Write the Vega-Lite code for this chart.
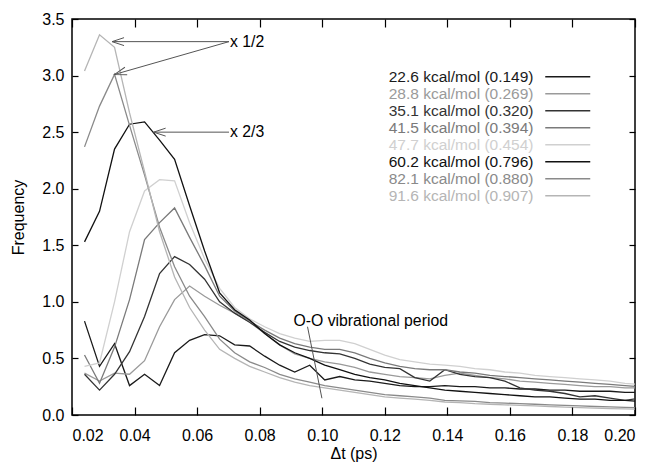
{
"$schema": "https://vega.github.io/schema/vega-lite/v6.json",
"width": 563, "height": 396,
"autosize": {"type": "none"},
"padding": {"left": 72, "top": 19, "right": 17, "bottom": 47},
"background": "white",
"config": {
 "font": "Liberation Sans",
 "view": {"stroke": "black", "strokeWidth": 1.5},
 "axis": {"domain": false, "grid": false, "tickColor": "black", "tickWidth": 1.2, "labelColor": "black", "labelFont": "Liberation Sans", "labelFontSize": 16, "titleFont": "Liberation Sans", "titleFontSize": 16, "titleFontWeight": "normal", "titleColor": "black"}
},
"datasets": {
"curves": [
{"s":"22.6 kcal/mol (0.149)","x":0.024,"y":0.83},{"s":"22.6 kcal/mol (0.149)","x":0.0288,"y":0.43},{"s":"22.6 kcal/mol (0.149)","x":0.0336,"y":0.63},{"s":"22.6 kcal/mol (0.149)","x":0.0384,"y":0.26},{"s":"22.6 kcal/mol (0.149)","x":0.0432,"y":0.36},{"s":"22.6 kcal/mol (0.149)","x":0.048,"y":0.26},{"s":"22.6 kcal/mol (0.149)","x":0.0528,"y":0.55},{"s":"22.6 kcal/mol (0.149)","x":0.0576,"y":0.66},{"s":"22.6 kcal/mol (0.149)","x":0.0624,"y":0.71},{"s":"22.6 kcal/mol (0.149)","x":0.0672,"y":0.70},{"s":"22.6 kcal/mol (0.149)","x":0.072,"y":0.62},{"s":"22.6 kcal/mol (0.149)","x":0.0768,"y":0.61},{"s":"22.6 kcal/mol (0.149)","x":0.0816,"y":0.52},{"s":"22.6 kcal/mol (0.149)","x":0.0864,"y":0.44},{"s":"22.6 kcal/mol (0.149)","x":0.0912,"y":0.38},{"s":"22.6 kcal/mol (0.149)","x":0.096,"y":0.44},{"s":"22.6 kcal/mol (0.149)","x":0.1008,"y":0.31},{"s":"22.6 kcal/mol (0.149)","x":0.1056,"y":0.34},{"s":"22.6 kcal/mol (0.149)","x":0.1104,"y":0.31},{"s":"22.6 kcal/mol (0.149)","x":0.1152,"y":0.30},{"s":"22.6 kcal/mol (0.149)","x":0.12,"y":0.28},{"s":"22.6 kcal/mol (0.149)","x":0.1248,"y":0.26},{"s":"22.6 kcal/mol (0.149)","x":0.1296,"y":0.25},{"s":"22.6 kcal/mol (0.149)","x":0.1344,"y":0.25},{"s":"22.6 kcal/mol (0.149)","x":0.1392,"y":0.26},{"s":"22.6 kcal/mol (0.149)","x":0.144,"y":0.25},{"s":"22.6 kcal/mol (0.149)","x":0.1488,"y":0.25},{"s":"22.6 kcal/mol (0.149)","x":0.1536,"y":0.24},{"s":"22.6 kcal/mol (0.149)","x":0.1584,"y":0.24},{"s":"22.6 kcal/mol (0.149)","x":0.1632,"y":0.23},{"s":"22.6 kcal/mol (0.149)","x":0.168,"y":0.23},{"s":"22.6 kcal/mol (0.149)","x":0.1728,"y":0.22},{"s":"22.6 kcal/mol (0.149)","x":0.1776,"y":0.22},{"s":"22.6 kcal/mol (0.149)","x":0.1824,"y":0.21},{"s":"22.6 kcal/mol (0.149)","x":0.1872,"y":0.21},{"s":"22.6 kcal/mol (0.149)","x":0.192,"y":0.21},{"s":"22.6 kcal/mol (0.149)","x":0.1968,"y":0.20},{"s":"22.6 kcal/mol (0.149)","x":0.2016,"y":0.20},
{"s":"28.8 kcal/mol (0.269)","x":0.024,"y":0.37},{"s":"28.8 kcal/mol (0.269)","x":0.0288,"y":0.30},{"s":"28.8 kcal/mol (0.269)","x":0.0336,"y":0.37},{"s":"28.8 kcal/mol (0.269)","x":0.0384,"y":0.36},{"s":"28.8 kcal/mol (0.269)","x":0.0432,"y":0.48},{"s":"28.8 kcal/mol (0.269)","x":0.048,"y":0.78},{"s":"28.8 kcal/mol (0.269)","x":0.0528,"y":1.02},{"s":"28.8 kcal/mol (0.269)","x":0.0576,"y":1.14},{"s":"28.8 kcal/mol (0.269)","x":0.0624,"y":1.05},{"s":"28.8 kcal/mol (0.269)","x":0.0672,"y":0.97},{"s":"28.8 kcal/mol (0.269)","x":0.072,"y":0.90},{"s":"28.8 kcal/mol (0.269)","x":0.0768,"y":0.82},{"s":"28.8 kcal/mol (0.269)","x":0.0816,"y":0.72},{"s":"28.8 kcal/mol (0.269)","x":0.0864,"y":0.62},{"s":"28.8 kcal/mol (0.269)","x":0.0912,"y":0.54},{"s":"28.8 kcal/mol (0.269)","x":0.096,"y":0.50},{"s":"28.8 kcal/mol (0.269)","x":0.1008,"y":0.47},{"s":"28.8 kcal/mol (0.269)","x":0.1056,"y":0.45},{"s":"28.8 kcal/mol (0.269)","x":0.1104,"y":0.42},{"s":"28.8 kcal/mol (0.269)","x":0.1152,"y":0.38},{"s":"28.8 kcal/mol (0.269)","x":0.12,"y":0.36},{"s":"28.8 kcal/mol (0.269)","x":0.1248,"y":0.34},{"s":"28.8 kcal/mol (0.269)","x":0.1296,"y":0.33},{"s":"28.8 kcal/mol (0.269)","x":0.1344,"y":0.32},{"s":"28.8 kcal/mol (0.269)","x":0.1392,"y":0.35},{"s":"28.8 kcal/mol (0.269)","x":0.144,"y":0.37},{"s":"28.8 kcal/mol (0.269)","x":0.1488,"y":0.35},{"s":"28.8 kcal/mol (0.269)","x":0.1536,"y":0.33},{"s":"28.8 kcal/mol (0.269)","x":0.1584,"y":0.32},{"s":"28.8 kcal/mol (0.269)","x":0.1632,"y":0.30},{"s":"28.8 kcal/mol (0.269)","x":0.168,"y":0.29},{"s":"28.8 kcal/mol (0.269)","x":0.1728,"y":0.28},{"s":"28.8 kcal/mol (0.269)","x":0.1776,"y":0.27},{"s":"28.8 kcal/mol (0.269)","x":0.1824,"y":0.26},{"s":"28.8 kcal/mol (0.269)","x":0.1872,"y":0.25},{"s":"28.8 kcal/mol (0.269)","x":0.192,"y":0.25},{"s":"28.8 kcal/mol (0.269)","x":0.1968,"y":0.24},{"s":"28.8 kcal/mol (0.269)","x":0.2016,"y":0.24},
{"s":"35.1 kcal/mol (0.320)","x":0.024,"y":0.36},{"s":"35.1 kcal/mol (0.320)","x":0.0288,"y":0.22},{"s":"35.1 kcal/mol (0.320)","x":0.0336,"y":0.36},{"s":"35.1 kcal/mol (0.320)","x":0.0384,"y":0.56},{"s":"35.1 kcal/mol (0.320)","x":0.0432,"y":0.87},{"s":"35.1 kcal/mol (0.320)","x":0.048,"y":1.25},{"s":"35.1 kcal/mol (0.320)","x":0.0528,"y":1.40},{"s":"35.1 kcal/mol (0.320)","x":0.0576,"y":1.33},{"s":"35.1 kcal/mol (0.320)","x":0.0624,"y":1.20},{"s":"35.1 kcal/mol (0.320)","x":0.0672,"y":1.00},{"s":"35.1 kcal/mol (0.320)","x":0.072,"y":0.90},{"s":"35.1 kcal/mol (0.320)","x":0.0768,"y":0.82},{"s":"35.1 kcal/mol (0.320)","x":0.0816,"y":0.73},{"s":"35.1 kcal/mol (0.320)","x":0.0864,"y":0.65},{"s":"35.1 kcal/mol (0.320)","x":0.0912,"y":0.60},{"s":"35.1 kcal/mol (0.320)","x":0.096,"y":0.57},{"s":"35.1 kcal/mol (0.320)","x":0.1008,"y":0.55},{"s":"35.1 kcal/mol (0.320)","x":0.1056,"y":0.54},{"s":"35.1 kcal/mol (0.320)","x":0.1104,"y":0.50},{"s":"35.1 kcal/mol (0.320)","x":0.1152,"y":0.45},{"s":"35.1 kcal/mol (0.320)","x":0.12,"y":0.42},{"s":"35.1 kcal/mol (0.320)","x":0.1248,"y":0.41},{"s":"35.1 kcal/mol (0.320)","x":0.1296,"y":0.33},{"s":"35.1 kcal/mol (0.320)","x":0.1344,"y":0.30},{"s":"35.1 kcal/mol (0.320)","x":0.1392,"y":0.40},{"s":"35.1 kcal/mol (0.320)","x":0.144,"y":0.36},{"s":"35.1 kcal/mol (0.320)","x":0.1488,"y":0.34},{"s":"35.1 kcal/mol (0.320)","x":0.1536,"y":0.33},{"s":"35.1 kcal/mol (0.320)","x":0.1584,"y":0.30},{"s":"35.1 kcal/mol (0.320)","x":0.1632,"y":0.24},{"s":"35.1 kcal/mol (0.320)","x":0.168,"y":0.22},{"s":"35.1 kcal/mol (0.320)","x":0.1728,"y":0.21},{"s":"35.1 kcal/mol (0.320)","x":0.1776,"y":0.19},{"s":"35.1 kcal/mol (0.320)","x":0.1824,"y":0.16},{"s":"35.1 kcal/mol (0.320)","x":0.1872,"y":0.17},{"s":"35.1 kcal/mol (0.320)","x":0.192,"y":0.15},{"s":"35.1 kcal/mol (0.320)","x":0.1968,"y":0.13},{"s":"35.1 kcal/mol (0.320)","x":0.2016,"y":0.15},
{"s":"41.5 kcal/mol (0.394)","x":0.024,"y":0.53},{"s":"41.5 kcal/mol (0.394)","x":0.0288,"y":0.28},{"s":"41.5 kcal/mol (0.394)","x":0.0336,"y":0.60},{"s":"41.5 kcal/mol (0.394)","x":0.0384,"y":1.02},{"s":"41.5 kcal/mol (0.394)","x":0.0432,"y":1.55},{"s":"41.5 kcal/mol (0.394)","x":0.048,"y":1.70},{"s":"41.5 kcal/mol (0.394)","x":0.0528,"y":1.83},{"s":"41.5 kcal/mol (0.394)","x":0.0576,"y":1.57},{"s":"41.5 kcal/mol (0.394)","x":0.0624,"y":1.32},{"s":"41.5 kcal/mol (0.394)","x":0.0672,"y":1.05},{"s":"41.5 kcal/mol (0.394)","x":0.072,"y":0.92},{"s":"41.5 kcal/mol (0.394)","x":0.0768,"y":0.83},{"s":"41.5 kcal/mol (0.394)","x":0.0816,"y":0.75},{"s":"41.5 kcal/mol (0.394)","x":0.0864,"y":0.68},{"s":"41.5 kcal/mol (0.394)","x":0.0912,"y":0.63},{"s":"41.5 kcal/mol (0.394)","x":0.096,"y":0.60},{"s":"41.5 kcal/mol (0.394)","x":0.1008,"y":0.58},{"s":"41.5 kcal/mol (0.394)","x":0.1056,"y":0.58},{"s":"41.5 kcal/mol (0.394)","x":0.1104,"y":0.55},{"s":"41.5 kcal/mol (0.394)","x":0.1152,"y":0.50},{"s":"41.5 kcal/mol (0.394)","x":0.12,"y":0.46},{"s":"41.5 kcal/mol (0.394)","x":0.1248,"y":0.43},{"s":"41.5 kcal/mol (0.394)","x":0.1296,"y":0.41},{"s":"41.5 kcal/mol (0.394)","x":0.1344,"y":0.40},{"s":"41.5 kcal/mol (0.394)","x":0.1392,"y":0.40},{"s":"41.5 kcal/mol (0.394)","x":0.144,"y":0.38},{"s":"41.5 kcal/mol (0.394)","x":0.1488,"y":0.37},{"s":"41.5 kcal/mol (0.394)","x":0.1536,"y":0.35},{"s":"41.5 kcal/mol (0.394)","x":0.1584,"y":0.34},{"s":"41.5 kcal/mol (0.394)","x":0.1632,"y":0.33},{"s":"41.5 kcal/mol (0.394)","x":0.168,"y":0.32},{"s":"41.5 kcal/mol (0.394)","x":0.1728,"y":0.31},{"s":"41.5 kcal/mol (0.394)","x":0.1776,"y":0.30},{"s":"41.5 kcal/mol (0.394)","x":0.1824,"y":0.29},{"s":"41.5 kcal/mol (0.394)","x":0.1872,"y":0.28},{"s":"41.5 kcal/mol (0.394)","x":0.192,"y":0.27},{"s":"41.5 kcal/mol (0.394)","x":0.1968,"y":0.26},{"s":"41.5 kcal/mol (0.394)","x":0.2016,"y":0.25},
{"s":"47.7 kcal/mol (0.454)","x":0.024,"y":0.43},{"s":"47.7 kcal/mol (0.454)","x":0.0288,"y":0.46},{"s":"47.7 kcal/mol (0.454)","x":0.0336,"y":1.00},{"s":"47.7 kcal/mol (0.454)","x":0.0384,"y":1.62},{"s":"47.7 kcal/mol (0.454)","x":0.0432,"y":1.98},{"s":"47.7 kcal/mol (0.454)","x":0.048,"y":2.08},{"s":"47.7 kcal/mol (0.454)","x":0.0528,"y":2.07},{"s":"47.7 kcal/mol (0.454)","x":0.0576,"y":1.70},{"s":"47.7 kcal/mol (0.454)","x":0.0624,"y":1.38},{"s":"47.7 kcal/mol (0.454)","x":0.0672,"y":1.12},{"s":"47.7 kcal/mol (0.454)","x":0.072,"y":0.95},{"s":"47.7 kcal/mol (0.454)","x":0.0768,"y":0.85},{"s":"47.7 kcal/mol (0.454)","x":0.0816,"y":0.78},{"s":"47.7 kcal/mol (0.454)","x":0.0864,"y":0.72},{"s":"47.7 kcal/mol (0.454)","x":0.0912,"y":0.68},{"s":"47.7 kcal/mol (0.454)","x":0.096,"y":0.65},{"s":"47.7 kcal/mol (0.454)","x":0.1008,"y":0.66},{"s":"47.7 kcal/mol (0.454)","x":0.1056,"y":0.66},{"s":"47.7 kcal/mol (0.454)","x":0.1104,"y":0.63},{"s":"47.7 kcal/mol (0.454)","x":0.1152,"y":0.58},{"s":"47.7 kcal/mol (0.454)","x":0.12,"y":0.53},{"s":"47.7 kcal/mol (0.454)","x":0.1248,"y":0.49},{"s":"47.7 kcal/mol (0.454)","x":0.1296,"y":0.47},{"s":"47.7 kcal/mol (0.454)","x":0.1344,"y":0.45},{"s":"47.7 kcal/mol (0.454)","x":0.1392,"y":0.44},{"s":"47.7 kcal/mol (0.454)","x":0.144,"y":0.43},{"s":"47.7 kcal/mol (0.454)","x":0.1488,"y":0.41},{"s":"47.7 kcal/mol (0.454)","x":0.1536,"y":0.40},{"s":"47.7 kcal/mol (0.454)","x":0.1584,"y":0.38},{"s":"47.7 kcal/mol (0.454)","x":0.1632,"y":0.37},{"s":"47.7 kcal/mol (0.454)","x":0.168,"y":0.35},{"s":"47.7 kcal/mol (0.454)","x":0.1728,"y":0.34},{"s":"47.7 kcal/mol (0.454)","x":0.1776,"y":0.33},{"s":"47.7 kcal/mol (0.454)","x":0.1824,"y":0.32},{"s":"47.7 kcal/mol (0.454)","x":0.1872,"y":0.31},{"s":"47.7 kcal/mol (0.454)","x":0.192,"y":0.30},{"s":"47.7 kcal/mol (0.454)","x":0.1968,"y":0.28},{"s":"47.7 kcal/mol (0.454)","x":0.2016,"y":0.27},
{"s":"60.2 kcal/mol (0.796)","x":0.024,"y":1.53},{"s":"60.2 kcal/mol (0.796)","x":0.0288,"y":1.80},{"s":"60.2 kcal/mol (0.796)","x":0.0336,"y":2.35},{"s":"60.2 kcal/mol (0.796)","x":0.0384,"y":2.57},{"s":"60.2 kcal/mol (0.796)","x":0.0432,"y":2.59},{"s":"60.2 kcal/mol (0.796)","x":0.048,"y":2.43},{"s":"60.2 kcal/mol (0.796)","x":0.0528,"y":2.26},{"s":"60.2 kcal/mol (0.796)","x":0.0576,"y":1.85},{"s":"60.2 kcal/mol (0.796)","x":0.0624,"y":1.45},{"s":"60.2 kcal/mol (0.796)","x":0.0672,"y":1.08},{"s":"60.2 kcal/mol (0.796)","x":0.072,"y":0.93},{"s":"60.2 kcal/mol (0.796)","x":0.0768,"y":0.84},{"s":"60.2 kcal/mol (0.796)","x":0.0816,"y":0.72},{"s":"60.2 kcal/mol (0.796)","x":0.0864,"y":0.62},{"s":"60.2 kcal/mol (0.796)","x":0.0912,"y":0.55},{"s":"60.2 kcal/mol (0.796)","x":0.096,"y":0.50},{"s":"60.2 kcal/mol (0.796)","x":0.1008,"y":0.44},{"s":"60.2 kcal/mol (0.796)","x":0.1056,"y":0.40},{"s":"60.2 kcal/mol (0.796)","x":0.1104,"y":0.36},{"s":"60.2 kcal/mol (0.796)","x":0.1152,"y":0.33},{"s":"60.2 kcal/mol (0.796)","x":0.12,"y":0.31},{"s":"60.2 kcal/mol (0.796)","x":0.1248,"y":0.28},{"s":"60.2 kcal/mol (0.796)","x":0.1296,"y":0.26},{"s":"60.2 kcal/mol (0.796)","x":0.1344,"y":0.24},{"s":"60.2 kcal/mol (0.796)","x":0.1392,"y":0.22},{"s":"60.2 kcal/mol (0.796)","x":0.144,"y":0.21},{"s":"60.2 kcal/mol (0.796)","x":0.1488,"y":0.20},{"s":"60.2 kcal/mol (0.796)","x":0.1536,"y":0.19},{"s":"60.2 kcal/mol (0.796)","x":0.1584,"y":0.18},{"s":"60.2 kcal/mol (0.796)","x":0.1632,"y":0.17},{"s":"60.2 kcal/mol (0.796)","x":0.168,"y":0.16},{"s":"60.2 kcal/mol (0.796)","x":0.1728,"y":0.16},{"s":"60.2 kcal/mol (0.796)","x":0.1776,"y":0.15},{"s":"60.2 kcal/mol (0.796)","x":0.1824,"y":0.14},{"s":"60.2 kcal/mol (0.796)","x":0.1872,"y":0.14},{"s":"60.2 kcal/mol (0.796)","x":0.192,"y":0.13},{"s":"60.2 kcal/mol (0.796)","x":0.1968,"y":0.13},{"s":"60.2 kcal/mol (0.796)","x":0.2016,"y":0.12},
{"s":"82.1 kcal/mol (0.880)","x":0.024,"y":2.37},{"s":"82.1 kcal/mol (0.880)","x":0.0288,"y":2.73},{"s":"82.1 kcal/mol (0.880)","x":0.0336,"y":3.01},{"s":"82.1 kcal/mol (0.880)","x":0.0384,"y":2.56},{"s":"82.1 kcal/mol (0.880)","x":0.0432,"y":2.12},{"s":"82.1 kcal/mol (0.880)","x":0.048,"y":1.66},{"s":"82.1 kcal/mol (0.880)","x":0.0528,"y":1.31},{"s":"82.1 kcal/mol (0.880)","x":0.0576,"y":1.05},{"s":"82.1 kcal/mol (0.880)","x":0.0624,"y":0.87},{"s":"82.1 kcal/mol (0.880)","x":0.0672,"y":0.67},{"s":"82.1 kcal/mol (0.880)","x":0.072,"y":0.55},{"s":"82.1 kcal/mol (0.880)","x":0.0768,"y":0.47},{"s":"82.1 kcal/mol (0.880)","x":0.0816,"y":0.42},{"s":"82.1 kcal/mol (0.880)","x":0.0864,"y":0.36},{"s":"82.1 kcal/mol (0.880)","x":0.0912,"y":0.32},{"s":"82.1 kcal/mol (0.880)","x":0.096,"y":0.29},{"s":"82.1 kcal/mol (0.880)","x":0.1008,"y":0.26},{"s":"82.1 kcal/mol (0.880)","x":0.1056,"y":0.24},{"s":"82.1 kcal/mol (0.880)","x":0.1104,"y":0.22},{"s":"82.1 kcal/mol (0.880)","x":0.1152,"y":0.20},{"s":"82.1 kcal/mol (0.880)","x":0.12,"y":0.18},{"s":"82.1 kcal/mol (0.880)","x":0.1248,"y":0.17},{"s":"82.1 kcal/mol (0.880)","x":0.1296,"y":0.16},{"s":"82.1 kcal/mol (0.880)","x":0.1344,"y":0.15},{"s":"82.1 kcal/mol (0.880)","x":0.1392,"y":0.13},{"s":"82.1 kcal/mol (0.880)","x":0.144,"y":0.125},{"s":"82.1 kcal/mol (0.880)","x":0.1488,"y":0.12},{"s":"82.1 kcal/mol (0.880)","x":0.1536,"y":0.11},{"s":"82.1 kcal/mol (0.880)","x":0.1584,"y":0.105},{"s":"82.1 kcal/mol (0.880)","x":0.1632,"y":0.10},{"s":"82.1 kcal/mol (0.880)","x":0.168,"y":0.095},{"s":"82.1 kcal/mol (0.880)","x":0.1728,"y":0.09},{"s":"82.1 kcal/mol (0.880)","x":0.1776,"y":0.085},{"s":"82.1 kcal/mol (0.880)","x":0.1824,"y":0.08},{"s":"82.1 kcal/mol (0.880)","x":0.1872,"y":0.075},{"s":"82.1 kcal/mol (0.880)","x":0.192,"y":0.072},{"s":"82.1 kcal/mol (0.880)","x":0.1968,"y":0.068},{"s":"82.1 kcal/mol (0.880)","x":0.2016,"y":0.065},
{"s":"91.6 kcal/mol (0.907)","x":0.024,"y":3.04},{"s":"91.6 kcal/mol (0.907)","x":0.0288,"y":3.36},{"s":"91.6 kcal/mol (0.907)","x":0.0336,"y":3.25},{"s":"91.6 kcal/mol (0.907)","x":0.0384,"y":2.67},{"s":"91.6 kcal/mol (0.907)","x":0.0432,"y":2.15},{"s":"91.6 kcal/mol (0.907)","x":0.048,"y":1.62},{"s":"91.6 kcal/mol (0.907)","x":0.0528,"y":1.22},{"s":"91.6 kcal/mol (0.907)","x":0.0576,"y":0.95},{"s":"91.6 kcal/mol (0.907)","x":0.0624,"y":0.75},{"s":"91.6 kcal/mol (0.907)","x":0.0672,"y":0.58},{"s":"91.6 kcal/mol (0.907)","x":0.072,"y":0.50},{"s":"91.6 kcal/mol (0.907)","x":0.0768,"y":0.43},{"s":"91.6 kcal/mol (0.907)","x":0.0816,"y":0.38},{"s":"91.6 kcal/mol (0.907)","x":0.0864,"y":0.33},{"s":"91.6 kcal/mol (0.907)","x":0.0912,"y":0.29},{"s":"91.6 kcal/mol (0.907)","x":0.096,"y":0.26},{"s":"91.6 kcal/mol (0.907)","x":0.1008,"y":0.24},{"s":"91.6 kcal/mol (0.907)","x":0.1056,"y":0.22},{"s":"91.6 kcal/mol (0.907)","x":0.1104,"y":0.20},{"s":"91.6 kcal/mol (0.907)","x":0.1152,"y":0.18},{"s":"91.6 kcal/mol (0.907)","x":0.12,"y":0.16},{"s":"91.6 kcal/mol (0.907)","x":0.1248,"y":0.15},{"s":"91.6 kcal/mol (0.907)","x":0.1296,"y":0.14},{"s":"91.6 kcal/mol (0.907)","x":0.1344,"y":0.13},{"s":"91.6 kcal/mol (0.907)","x":0.1392,"y":0.115},{"s":"91.6 kcal/mol (0.907)","x":0.144,"y":0.11},{"s":"91.6 kcal/mol (0.907)","x":0.1488,"y":0.10},{"s":"91.6 kcal/mol (0.907)","x":0.1536,"y":0.095},{"s":"91.6 kcal/mol (0.907)","x":0.1584,"y":0.09},{"s":"91.6 kcal/mol (0.907)","x":0.1632,"y":0.085},{"s":"91.6 kcal/mol (0.907)","x":0.168,"y":0.08},{"s":"91.6 kcal/mol (0.907)","x":0.1728,"y":0.075},{"s":"91.6 kcal/mol (0.907)","x":0.1776,"y":0.07},{"s":"91.6 kcal/mol (0.907)","x":0.1824,"y":0.065},{"s":"91.6 kcal/mol (0.907)","x":0.1872,"y":0.06},{"s":"91.6 kcal/mol (0.907)","x":0.192,"y":0.057},{"s":"91.6 kcal/mol (0.907)","x":0.1968,"y":0.054},{"s":"91.6 kcal/mol (0.907)","x":0.2016,"y":0.05}
],
"arrows": [
{"x":0.0702,"y":3.30,"x2":0.0328,"y2":3.30,"k":"h"},
{"x":0.0702,"y":3.30,"x2":0.0336,"y2":3.01,"k":"d"},
{"x":0.0702,"y":2.50,"x2":0.0461,"y2":2.50,"k":"h"},
{"x":0.0953,"y":0.78,"x2":0.0999,"y2":0.148,"k":"n"}
],
"notes": [
{"x":0.0705,"y":3.30,"t":"x 1/2"},
{"x":0.0705,"y":2.50,"t":"x 2/3"},
{"x":0.0908,"y":0.835,"t":"O-O vibrational period"}
]
},
"layer": [
{
 "data": {"name": "curves"},
 "mark": {"type": "line", "strokeWidth": 1.3, "clip": true},
 "encoding": {
  "x": {"field": "x", "type": "quantitative", "scale": {"domain": [0.02, 0.2], "nice": false, "zero": false},
   "axis": {"orient": "bottom", "values": [0.02,0.04,0.06,0.08,0.1,0.12,0.14,0.16,0.18,0.2], "format": ".2f", "title": "Δt (ps)", "ticks": false, "tickSize": 0, "labelPadding": 12, "titlePadding": 2}},
  "y": {"field": "y", "type": "quantitative", "scale": {"domain": [0, 3.5], "nice": false},
   "axis": {"orient": "left", "values": [0,0.5,1,1.5,2,2.5,3,3.5], "format": ".1f", "title": "Frequency", "ticks": false, "tickSize": 0, "labelPadding": 8, "titlePadding": 15}},
  "color": {"field": "s", "type": "nominal",
   "scale": {"domain": ["22.6 kcal/mol (0.149)","28.8 kcal/mol (0.269)","35.1 kcal/mol (0.320)","41.5 kcal/mol (0.394)","47.7 kcal/mol (0.454)","60.2 kcal/mol (0.796)","82.1 kcal/mol (0.880)","91.6 kcal/mol (0.907)"],
    "range": ["#1a1a1a","#9a9a9a","#333333","#7a7a7a","#d0d0d0","#111111","#8a8a8a","#b5b5b5"]},
   "legend": {"orient": "none", "legendX": 488, "legendY": 50, "title": null, "symbolType": "M-5,0H5", "symbolSize": 81, "symbolStrokeWidth": 1.3, "labelAlign": "right", "labelOffset": -42, "labelFontSize": 15.5, "labelFont": "Liberation Sans", "rowPadding": -2, "padding": 0,
    "encode": {"labels": {"update": {"fill": {"scale": "color", "field": "value"}}}}}}
 }
},
{
 "data": {"name": "arrows"},
 "mark": {"type": "rule", "color": "#555555", "strokeWidth": 1},
 "encoding": {
  "x": {"field": "x", "type": "quantitative", "scale": {"domain": [0.02, 0.2], "nice": false, "zero": false},
   "axis": {"orient": "top", "values": [0.02,0.04,0.06,0.08,0.1,0.12,0.14,0.16,0.18,0.2], "labels": false, "title": null, "ticks": true, "tickSize": -8, "zindex": 5}},
  "y": {"field": "y", "type": "quantitative", "scale": {"domain": [0, 3.5], "nice": false},
   "axis": {"orient": "right", "values": [0,0.5,1,1.5,2,2.5,3,3.5], "labels": false, "title": null, "ticks": true, "tickSize": -6, "zindex": 5}},
  "x2": {"field": "x2"},
  "y2": {"field": "y2"}
 }
},
{
 "data": {"name": "arrows"},
 "transform": [{"filter": "datum.k == 'h'"}],
 "mark": {"type": "point", "shape": "M1,-0.33L0,0L1,0.33", "size": 576, "filled": false, "stroke": "#555555", "strokeWidth": 1, "opacity": 1},
 "encoding": {
  "x": {"field": "x2", "type": "quantitative", "scale": {"domain": [0.02, 0.2], "nice": false, "zero": false},
   "axis": {"orient": "bottom", "values": [0.02,0.04,0.06,0.08,0.1,0.12,0.14,0.16,0.18,0.2], "labels": false, "title": null, "ticks": true, "tickSize": -8, "zindex": 5}},
  "y": {"field": "y2", "type": "quantitative", "scale": {"domain": [0, 3.5], "nice": false},
   "axis": {"orient": "left", "values": [0,0.5,1,1.5,2,2.5,3,3.5], "labels": false, "title": null, "ticks": true, "tickSize": -6, "zindex": 5}}
 }
},
{
 "data": {"name": "arrows"},
 "transform": [{"filter": "datum.k == 'd'"}],
 "mark": {"type": "point", "shape": "M1,-0.33L0,0L1,0.33", "size": 576, "filled": false, "stroke": "#555555", "strokeWidth": 1, "opacity": 1, "angle": 343.5},
 "encoding": {
  "x": {"field": "x2", "type": "quantitative", "scale": {"domain": [0.02, 0.2], "nice": false, "zero": false}, "axis": null},
  "y": {"field": "y2", "type": "quantitative", "scale": {"domain": [0, 3.5], "nice": false}, "axis": null}
 }
},
{
 "data": {"name": "notes"},
 "mark": {"type": "text", "align": "left", "baseline": "middle", "fontSize": 15.8, "font": "Liberation Sans", "color": "black"},
 "encoding": {
  "x": {"field": "x", "type": "quantitative", "scale": {"domain": [0.02, 0.2], "nice": false, "zero": false}, "axis": null},
  "y": {"field": "y", "type": "quantitative", "scale": {"domain": [0, 3.5], "nice": false}, "axis": null},
  "text": {"field": "t"}
 }
}
],
"resolve": {"axis": {"x": "independent", "y": "independent"}}
}
